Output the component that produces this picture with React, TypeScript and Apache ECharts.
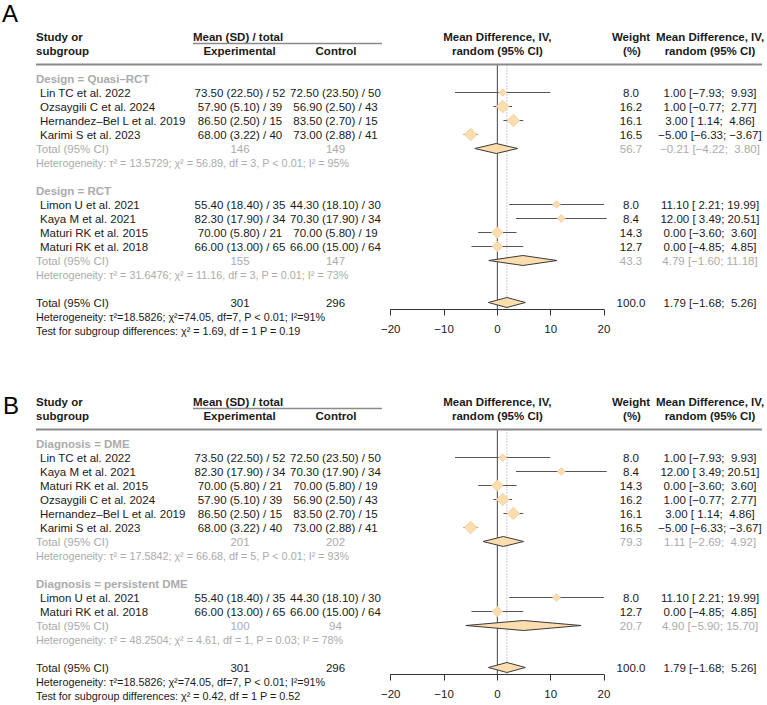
import { useEffect, useRef } from "react";
import * as echarts from "echarts";

// ---------- study data ----------
const studyNames = [
  "Lin TC et al. 2022",
  "Ozsaygili C et al. 2024",
  "Hernandez–Bel L et al. 2019",
  "Karimi S et al. 2023",
  "Limon U et al. 2021",
  "Kaya M et al. 2021",
  "Maturi RK et al. 2015",
  "Maturi RK et al. 2018",
];
const expMean = [73.5, 57.9, 86.5, 68.0, 55.4, 82.3, 70.0, 66.0];
const expSD = [22.5, 5.1, 2.5, 3.22, 18.4, 17.9, 5.8, 13.0];
const expN = [52, 39, 15, 40, 35, 34, 21, 65];
const ctlMean = [72.5, 56.9, 83.5, 73.0, 44.3, 70.3, 70.0, 66.0];
const ctlSD = [23.5, 2.5, 2.7, 2.88, 18.1, 17.9, 5.8, 15.0];
const ctlN = [50, 43, 15, 41, 30, 34, 19, 64];
const studyMD = [1.0, 1.0, 3.0, -5.0, 11.1, 12.0, 0.0, 0.0];
const studyLo = [-7.93, -0.77, 1.14, -6.33, 2.21, 3.49, -3.6, -4.85];
const studyHi = [9.93, 2.77, 4.86, -3.67, 19.99, 20.51, 3.6, 4.85];
const studyWeight = [8.0, 16.2, 16.1, 16.5, 8.0, 8.4, 14.3, 12.7];

// ---------- panel A subgroups ----------
const aLabels = ["Design = Quasi–RCT", "Design = RCT"];
const aMembers = [[0, 1, 2, 3], [4, 5, 6, 7]];
const aMD = [-0.21, 4.79];
const aLo = [-4.22, -1.6];
const aHi = [3.8, 11.18];
const aW = [56.7, 43.3];
const aNE = [146, 155];
const aNC = [149, 147];
const aHet = [
  "τ² = 13.5729; χ² = 56.89, df = 3, P < 0.01; I² = 95%",
  "τ² = 31.6476; χ² = 11.16, df = 3, P = 0.01; I² = 73%",
];
const aTest = "χ² = 1.69, df = 1 P = 0.19";

// ---------- panel B subgroups ----------
const bLabels = ["Diagnosis = DME", "Diagnosis = persistent DME"];
const bMembers = [[0, 5, 6, 1, 2, 3], [4, 7]];
const bMD = [1.11, 4.9];
const bLo = [-2.69, -5.9];
const bHi = [4.92, 15.7];
const bW = [79.3, 20.7];
const bNE = [201, 100];
const bNC = [202, 94];
const bHet = [
  "τ² = 17.5842; χ² = 66.68, df = 5, P < 0.01; I² = 93%",
  "τ² = 48.2504; χ² = 4.61, df = 1, P = 0.03; I² = 78%",
];
const bTest = "χ² = 0.42, df = 1 P = 0.52";

// ---------- overall ----------
const overallMD = 1.79;
const overallLo = -1.68;
const overallHi = 5.26;
const overallW = 100.0;
const overallNE = 301;
const overallNC = 296;
const overallHet = "τ²=18.5826; χ²=74.05, df=7, P < 0.01; I²=91%";

// axis
const xMin = -20;
const xMax = 20;
const xStep = 10;

// ---------- styling / layout ----------
const FAMILY = '"Liberation Sans", Arial, Helvetica, sans-serif';
const INK = "#1a1a1a";
const GRAY = "#ababab";
const RULE = "#8a8a8a";
const CI = "#555555";
const FILL = "#FCDDAE";
const FILL_EDGE = "#F0C994";
const SUM_EDGE = "#3a3a3a";
const FS = 11.5;
const FS_SMALL = 10.8;
const ROW = 14;
const PANEL_TOP = [64.5, 429.5];
const GRID_LEFT = 390.7;
const GRID_W = 213.3;
const Y_MIN = -1;
const Y_MAX = 16.5;

const COL_LABEL = 36;
const COL_STUDY = 40;
const COL_EXP = 240;
const COL_CTL = 335.5;
const COL_W = 631;
const COL_CI = 710;

const minus = (s: string) => s.replace("-", "−");
const f2 = (v: number) => minus(v.toFixed(2));
const pad = (s: string, n: number) => {
  let out = s;
  while (out.length < n) out = "\u00a0" + out;
  return out;
};
const ciText = (md: number, lo: number, hi: number) =>
  `${f2(md)} [${pad(f2(lo), 5)}; ${pad(f2(hi), 5)}]`;
const armText = (m: number, sd: number, n: number) =>
  `${m.toFixed(2)} (${sd.toFixed(2)}) / ${n}`;
const font = (size: number, bold?: boolean) =>
  `${bold ? "bold " : ""}${size}px ${FAMILY}`;

type Cell = {
  x?: number;
  xv?: number;
  text: string;
  align?: string;
  bold?: boolean;
  color?: string;
  size?: number;
};
type RowItem = {
  row: number;
  cells?: Cell[];
  lines?: { x1: number; x2: number; w: number }[];
};

function buildPanel(
  labels: string[],
  members: number[][],
  sMD: number[],
  sLo: number[],
  sHi: number[],
  sW: number[],
  sNE: number[],
  sNC: number[],
  het: string[],
  test: string
) {
  const rows: RowItem[] = [];
  const studies: number[][] = [];
  const sums: number[][] = [];
  rows.push({
    row: -3,
    cells: [
      { x: COL_LABEL, text: "Study or", align: "left", bold: true },
      { x: 193, text: "Mean (SD) / total", align: "left", bold: true },
      { xv: 0, text: "Mean Difference, IV,", bold: true },
      { x: COL_W, text: "Weight", bold: true },
      { x: COL_CI, text: "Mean Difference, IV,", bold: true },
    ],
  });
  rows.push({
    row: -2,
    cells: [
      { x: COL_LABEL, text: "subgroup", align: "left", bold: true },
      { x: 239.5, text: "Experimental", bold: true },
      { x: 336, text: "Control", bold: true },
      { xv: 0, text: "random (95% CI)", bold: true },
      { x: 632, text: "(%)", bold: true },
      { x: COL_CI, text: "random (95% CI)", bold: true },
    ],
  });
  rows.push({ row: -2.5, lines: [{ x1: 193, x2: 382, w: 1.3 }] });
  rows.push({ row: -1, lines: [{ x1: 36, x2: 762, w: 2 }] });

  let row = 0;
  labels.forEach((lab, g) => {
    rows.push({
      row,
      cells: [{ x: COL_LABEL, text: lab, align: "left", bold: true, color: GRAY }],
    });
    row++;
    members[g].forEach((i) => {
      rows.push({
        row,
        cells: [
          { x: COL_STUDY, text: studyNames[i], align: "left" },
          { x: COL_EXP, text: armText(expMean[i], expSD[i], expN[i]) },
          { x: COL_CTL, text: armText(ctlMean[i], ctlSD[i], ctlN[i]) },
          { x: COL_W, text: studyWeight[i].toFixed(1) },
          { x: COL_CI, text: ciText(studyMD[i], studyLo[i], studyHi[i]) },
        ],
      });
      studies.push([studyMD[i], row, studyLo[i], studyHi[i], studyWeight[i]]);
      row++;
    });
    rows.push({
      row,
      cells: [
        { x: COL_LABEL, text: "Total (95% CI)", align: "left", color: GRAY },
        { x: COL_EXP, text: String(sNE[g]), color: GRAY },
        { x: COL_CTL, text: String(sNC[g]), color: GRAY },
        { x: COL_W, text: sW[g].toFixed(1), color: GRAY },
        { x: COL_CI, text: ciText(sMD[g], sLo[g], sHi[g]), color: GRAY },
      ],
    });
    sums.push([sMD[g], row, sLo[g], sHi[g]]);
    row++;
    rows.push({
      row,
      cells: [
        {
          x: COL_LABEL,
          text: "Heterogeneity: " + het[g],
          align: "left",
          color: GRAY,
          size: FS_SMALL,
        },
      ],
    });
    row++;
    row++;
  });
  rows.push({
    row,
    cells: [
      { x: COL_LABEL, text: "Total (95% CI)", align: "left" },
      { x: COL_EXP, text: String(overallNE) },
      { x: COL_CTL, text: String(overallNC) },
      { x: COL_W, text: overallW.toFixed(1) },
      { x: COL_CI, text: ciText(overallMD, overallLo, overallHi) },
    ],
  });
  sums.push([overallMD, row, overallLo, overallHi]);
  row++;
  rows.push({
    row,
    cells: [
      { x: COL_LABEL, text: "Heterogeneity: " + overallHet, align: "left", size: FS_SMALL },
    ],
  });
  row++;
  rows.push({
    row,
    cells: [
      {
        x: COL_LABEL,
        text: "Test for subgroup differences: " + test,
        align: "left",
        size: FS_SMALL,
      },
    ],
  });
  return { rows, studies, sums };
}

function panelSeries(p: number, panel: ReturnType<typeof buildPanel>) {
  const axis = { xAxisIndex: p, yAxisIndex: p, coordinateSystem: "cartesian2d" };
  return [
    {
      ...axis,
      type: "custom",
      silent: true,
      clip: false,
      z: 1,
      data: [[0], [overallMD]],
      renderItem: (params: any, api: any) => {
        const x = api.value(0);
        const a = api.coord([x, Y_MIN]);
        const b = api.coord([x, Y_MAX]);
        const dotted = params.dataIndex === 1;
        return {
          type: "line",
          shape: { x1: a[0], y1: a[1], x2: b[0], y2: b[1] },
          style: dotted
            ? { stroke: "#9a9a9a", lineWidth: 1, lineDash: [1, 2] }
            : { stroke: "#444444", lineWidth: 1 },
        };
      },
    },
    {
      ...axis,
      type: "custom",
      silent: true,
      clip: false,
      z: 3,
      data: panel.studies,
      renderItem: (_params: any, api: any) => {
        const row = api.value(1);
        const c = api.coord([api.value(0), row]);
        const l = api.coord([api.value(2), row]);
        const r = api.coord([api.value(3), row]);
        const h = (2.7 + 0.6 * api.value(4)) / 2;
        return {
          type: "group",
          children: [
            {
              type: "line",
              shape: { x1: l[0], y1: c[1], x2: r[0], y2: c[1] },
              style: { stroke: CI, lineWidth: 1 },
            },
            {
              type: "polygon",
              shape: {
                points: [
                  [c[0], c[1] - h],
                  [c[0] + h, c[1]],
                  [c[0], c[1] + h],
                  [c[0] - h, c[1]],
                ],
              },
              style: { fill: FILL, stroke: FILL_EDGE, lineWidth: 0.8 },
            },
          ],
        };
      },
    },
    {
      ...axis,
      type: "custom",
      silent: true,
      clip: false,
      z: 4,
      data: panel.sums,
      renderItem: (_params: any, api: any) => {
        const row = api.value(1);
        const c = api.coord([api.value(0), row]);
        const l = api.coord([api.value(2), row]);
        const r = api.coord([api.value(3), row]);
        const h = 5;
        return {
          type: "polygon",
          shape: {
            points: [
              [l[0], c[1]],
              [c[0], c[1] - h],
              [r[0], c[1]],
              [c[0], c[1] + h],
            ],
          },
          style: { fill: FILL, stroke: SUM_EDGE, lineWidth: 1 },
        };
      },
    },
    {
      ...axis,
      type: "custom",
      silent: true,
      clip: false,
      z: 5,
      data: panel.rows.map((r) => [0, r.row]),
      renderItem: (params: any, api: any) => {
        const item = panel.rows[params.dataIndex];
        const y = api.coord([0, item.row])[1];
        const children: any[] = [];
        (item.cells || []).forEach((c) => {
          const x = c.xv !== undefined ? api.coord([c.xv, item.row])[0] : c.x;
          children.push({
            type: "text",
            x,
            y,
            style: {
              text: c.text,
              fill: c.color || INK,
              font: font(c.size || FS, c.bold),
              textAlign: c.align || "center",
              textVerticalAlign: "middle",
            },
          });
        });
        (item.lines || []).forEach((ln) => {
          children.push({
            type: "line",
            shape: { x1: ln.x1, y1: y, x2: ln.x2, y2: y },
            style: { stroke: RULE, lineWidth: ln.w },
          });
        });
        return { type: "group", children };
      },
    },
  ];
}

export default function App() {
  const ref = useRef<HTMLDivElement>(null);
  useEffect(() => {
    if (!ref.current) return;
    const chart = echarts.init(ref.current, undefined, { renderer: "svg" });
    const panelA = buildPanel(aLabels, aMembers, aMD, aLo, aHi, aW, aNE, aNC, aHet, aTest);
    const panelB = buildPanel(bLabels, bMembers, bMD, bLo, bHi, bW, bNE, bNC, bHet, bTest);
    const grids = PANEL_TOP.map((top) => ({
      left: GRID_LEFT,
      top,
      width: GRID_W,
      height: (Y_MAX - Y_MIN) * ROW,
      containLabel: false,
      outerBoundsMode: "none",
    }));
    const xAxes = PANEL_TOP.map((_t, i) => ({
      type: "value",
      gridIndex: i,
      min: xMin,
      max: xMax,
      interval: xStep,
      position: "bottom",
      splitLine: { show: false },
      axisLine: { show: true, onZero: false, lineStyle: { color: "#333333", width: 1 } },
      axisTick: { show: true, inside: false, length: 6, lineStyle: { color: "#333333", width: 1 } },
      axisLabel: {
        show: true,
        margin: 13,
        color: INK,
        fontSize: FS,
        fontFamily: FAMILY,
        formatter: (v: number) => (v < 0 ? "−" + Math.abs(v) : String(v)),
      },
    }));
    const yAxes = PANEL_TOP.map((_t, i) => ({
      type: "value",
      gridIndex: i,
      min: Y_MIN,
      max: Y_MAX,
      inverse: true,
      show: false,
    }));
    chart.setOption({
      animation: false,
      backgroundColor: "#ffffff",
      grid: grids,
      xAxis: xAxes,
      yAxis: yAxes,
      graphic: [
        {
          type: "text",
          left: 2,
          top: 1,
          style: { text: "A", font: `24px ${FAMILY}`, fill: "#000000" },
        },
        {
          type: "text",
          left: 3,
          top: 393,
          style: { text: "B", font: `24px ${FAMILY}`, fill: "#000000" },
        },
      ],
      series: [...panelSeries(0, panelA), ...panelSeries(1, panelB)],
    });
    return () => chart.dispose();
  }, []);
  return (
    <div
      ref={ref}
      style={{ position: "fixed", left: 0, top: 0, width: 767, height: 705, background: "#fff" }}
    />
  );
}
